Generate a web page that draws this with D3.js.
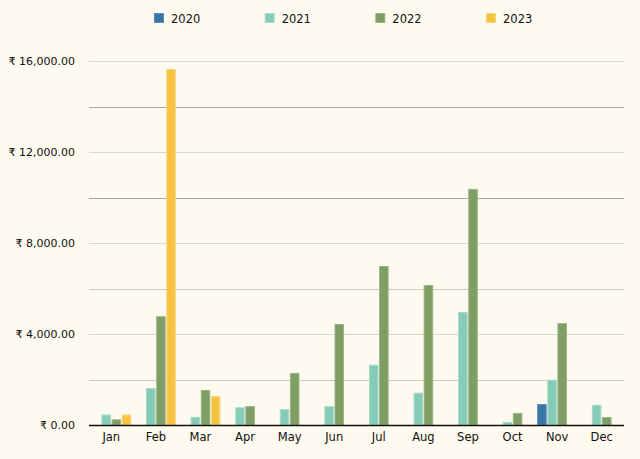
<!DOCTYPE html>
<html><head><meta charset="utf-8">
<script src="https://cdn.jsdelivr.net/npm/d3@7"></script>
<style>body{margin:0;background:#fffaef;}svg{display:block;font-family:"DejaVu Sans",Verdana,sans-serif;}</style>
</head><body><svg id="c" width="640" height="459"></svg>
<script>
const months = ["Jan","Feb","Mar","Apr","May","Jun","Jul","Aug","Sep","Oct","Nov","Dec"];
const seriesNames = ["2020","2021","2022","2023"];
const v2020 = [null,null,null,null,null,null,null,null,null,null,920,null];
const v2021 = [460,1620,360,780,700,830,2650,1420,4970,130,1990,890];
const v2022 = [250,4780,1540,830,2290,4440,6990,6150,10380,530,4480,350];
const v2023 = [460,15650,1270,null,null,null,null,null,null,null,null,null];
const yTicks = [0,4000,8000,12000,16000];
const yMinor = [2000,6000,10000,14000];
const colors = ["#3a74a8","#86cbb8","#7e9e65","#f5c342"];
const strokes = ["#5a8cba","#a5dac9","#9ab385","#f8d67a"];

const allVals = [v2020,v2021,v2022,v2023];
const svg = d3.select("#c");
svg.append("rect").attr("width",640).attr("height",459).attr("fill","#fffaef");
const L=89,R=624,T=61,B=425;
const x = d3.scaleBand().domain(months).range([L,R]).paddingInner(0.105).paddingOuter(0.0525);
const xs = d3.scaleBand().domain(seriesNames).range([0,x.bandwidth()]).paddingInner(0.06);
const y = d3.scaleLinear().domain([0,16000]).range([B,T]);

// minor gridlines
svg.append("g").selectAll("line").data(yMinor).join("line")
  .attr("x1",L).attr("x2",R).attr("y1",d=>Math.round(y(d))+0.5).attr("y2",d=>Math.round(y(d))+0.5)
  .attr("stroke",d=>d>=10000?"#a9a898":"#cfcdbe").attr("stroke-width",1);
// major gridlines
svg.append("g").selectAll("line").data(yTicks.filter(d=>d>0)).join("line")
  .attr("x1",L).attr("x2",R).attr("y1",d=>Math.round(y(d))+0.5).attr("y2",d=>Math.round(y(d))+0.5)
  .attr("stroke","#d9d7c8").attr("stroke-width",1);

// y axis labels
const fmt = d3.format(",.2f");
const yAxis = d3.axisLeft(y).tickValues(yTicks).tickSize(0).tickPadding(14).tickFormat(d=>"₹ "+fmt(d));
const ga = svg.append("g").attr("transform",`translate(${L},0)`).call(yAxis);
ga.select(".domain").remove();
ga.selectAll("text").attr("font-size",11).attr("fill","#111").attr("font-family","DejaVu Sans, Verdana, sans-serif");

// bars
seriesNames.forEach((s,si)=>{
  const data = months.map((m,i)=>({m,v:allVals[si][i]})).filter(d=>d.v!=null);
  svg.append("g").selectAll("rect").data(data).join("rect")
    .attr("x",d=>x(d.m)+xs(s)+0.5).attr("width",xs.bandwidth()-1)
    .attr("y",d=>y(d.v)+0.5).attr("height",d=>B-y(d.v)-0.5)
    .attr("fill",colors[si]).attr("stroke",strokes[si]).attr("stroke-width",1);
});

// baseline
svg.append("line").attr("x1",L).attr("x2",R).attr("y1",B+0.5).attr("y2",B+0.5).attr("stroke","#111").attr("stroke-width",1.5);

// x axis labels
const xAxis = d3.axisBottom(x).tickSize(0).tickPadding(8);
const gx = svg.append("g").attr("transform",`translate(0,${B})`).call(xAxis);
gx.select(".domain").remove();
gx.selectAll("text").attr("font-size",11.5).attr("fill","#111").attr("font-family","DejaVu Sans, Verdana, sans-serif");

// legend
const lx = d3.scalePoint().domain(seriesNames).range([154,486]);
const lg = svg.append("g").selectAll("g").data(seriesNames).join("g").attr("transform",d=>`translate(${lx(d)},13)`);
lg.append("rect").attr("x",0.5).attr("y",0.5).attr("width",9).attr("height",9)
  .attr("fill",(d,i)=>colors[i]).attr("stroke",(d,i)=>strokes[i]);
lg.append("text").attr("x",17).attr("y",10).attr("font-size",11.5).attr("fill","#111").text(d=>d);
</script></body></html>
